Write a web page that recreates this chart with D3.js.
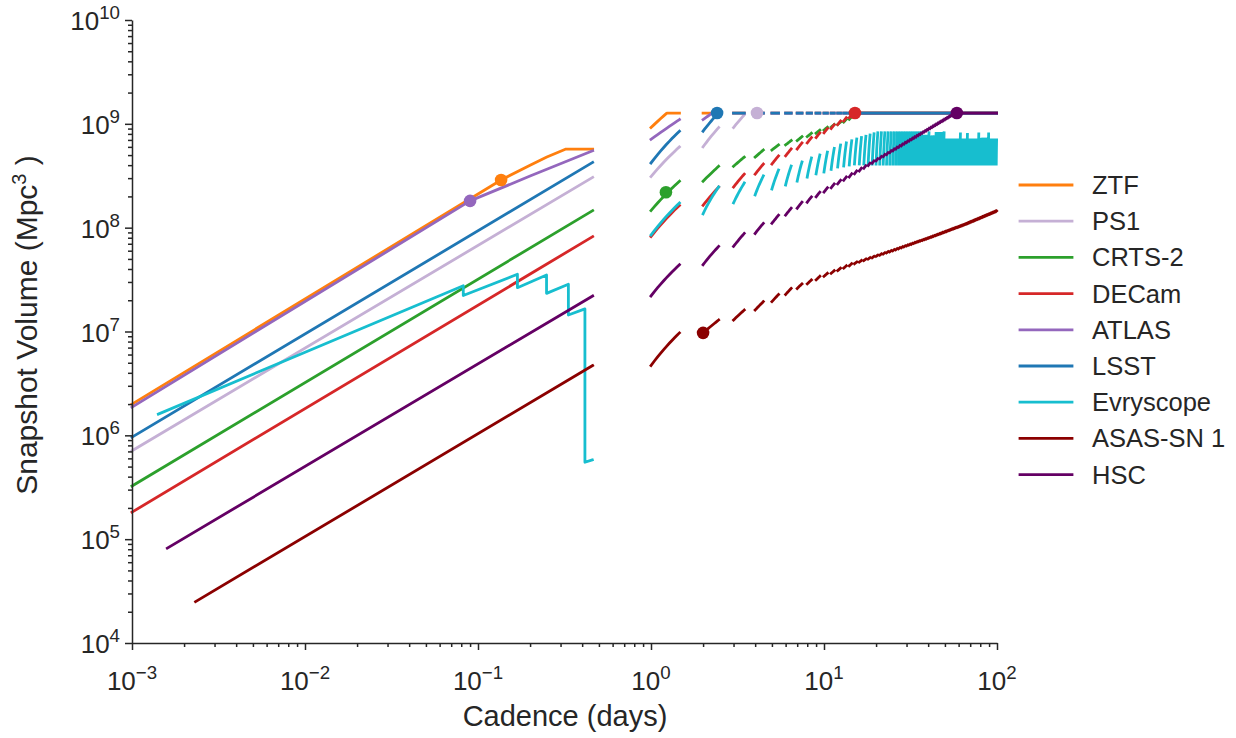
<!DOCTYPE html>
<html><head><meta charset="utf-8">
<script src="https://cdn.jsdelivr.net/npm/d3@7"></script>
<style>body{margin:0;background:#fff}text{font-family:"Liberation Sans",Arial,sans-serif;fill:#262626}</style>
</head><body><svg id="c" width="1236" height="738"></svg>
<script>
// ---------------- data ----------------
const surveys = ["ZTF","PS1","CRTS-2","DECam","ATLAS","LSST","Evryscope","ASAS-SN 1","HSC"];
const colors  = ["#ff7f0e","#c5b0d5","#2ca02c","#d62728","#9467bd","#1f77b4","#17becf","#8b0000","#640064"];
const xTickExps = [-3,-2,-1,0,1,2];
const yTickExps = [4,5,6,7,8,9,10];
const volumeCap = 1.27e9;      // whole-sky snapshot volume
const nightLength = 0.46;      // days of observing per night

// single-night curves: [cadence (days), volume (Mpc^3)]
const intraZTF   = [[0.001,2.0e6],[0.136,2.88e8],[0.2,4.0e8],[0.25,4.8e8],[0.32,5.7e8],[0.46,5.7e8]];
const intraPS1   = [[0.001,7.1e5],[0.46,3.05e8]];
const intraCRTS  = [[0.001,3.25e5],[0.46,1.46e8]];
const intraDECam = [[0.001,1.82e5],[0.46,8.2e7]];
const intraATLAS = [[0.001,1.87e6],[0.09,1.81e8],[0.2,3.14e8],[0.46,5.5e8]];
const intraLSST  = [[0.001,9.6e5],[0.46,4.25e8]];
const intraEvry  = [[0.00142,1.6e6],[0.0822,2.76e7],[0.0822,2.22e7],[0.169,3.56e7],[0.169,2.64e7],
                    [0.249,3.5e7],[0.249,2.33e7],[0.333,2.85e7],[0.333,1.44e7],[0.415,1.65e7],
                    [0.415,5.5e5],[0.458,5.8e5]];
const intraASASSN= [[0.00233,2.5e4],[0.46,4.7e6]];
const intraHSC   = [[0.0016,8.2e4],[0.46,2.2e7]];

// multi-night: volume reached at the start of night n  (knots: nights, volumes)
const nightsZTF   = [1,2,100],            volZTF   = [9.2e8,1.6e9,1.6e9];
const nightsPS1   = [1,2,3,4,5],          volPS1   = [3.1e8,6.0e8,9.2e8,1.22e9,1.5e9];
const nightsCRTS  = [1,2,3,5,7,10,13,15,16], volCRTS = [1.46e8,2.8e8,3.9e8,5.6e8,6.9e8,8.7e8,1.04e9,1.17e9,1.3e9];
const nightsDECam = [1,16],               volDECam = [8.2e7,1.31e9];
const nightsATLAS = [1,2,3],              volATLAS = [7.1e8,1.1e9,1.4e9];
const nightsLSST  = [1,2,3],              volLSST  = [4.2e8,8.5e8,1.28e9];
const nightsASASSN= [1,2,3,4,5,7,10,15,25,40,65,100];
const volASASSN   = [4.7e6,9.7e6,1.29e7,1.61e7,1.94e7,2.6e7,3.4e7,4.5e7,6.0e7,7.9e7,1.07e8,1.45e8];
const nightsHSC   = [1,60],               volHSC   = [2.2e7,1.32e9];

// Evryscope: separate start / end volume for each night
const evryStartNights = [1,2,3,4,5,6,7,8,9,10,12,15,20,100];
const evryStartVols   = [8.5e7,1.36e8,1.73e8,2.07e8,2.36e8,2.58e8,2.81e8,3.07e8,3.29e8,3.44e8,3.84e8,4.1e8,4.1e8,4.1e8];
const evryEndNights   = [1,2,3,4,5,6,7,8,9,10,12,15,18,20];
const evryEndVols     = [1.73e8,2.47e8,2.69e8,3.15e8,3.59e8,3.92e8,4.29e8,4.69e8,5.01e8,5.35e8,6.25e8,7.15e8,7.8e8,8.2e8];
// later nights: [first night, last night, end volume]
const evryEndRuns = [[21,36,8.2e8],[37,39,7.6e8],[40,40,8.2e8],[41,43,7.5e8],[44,48,8.1e8],[49,49,8.2e8],
                     [50,60,7.0e8],[61,61,8.0e8],[62,66,7.0e8],[67,67,7.9e8],[68,77,7.0e8],[78,78,8.0e8],
                     [79,88,7.1e8],[89,89,8.0e8],[90,99,7.0e8]];

// survey cadence markers
const markerCadence = [0.136, 4.1, 1.22, 15.1, 0.09, 2.41, null, 2.0, 58.6];
const markerVolume  = [2.88e8, 1.27e9, 2.19e8, 1.27e9, 1.81e8, 1.27e9, null, 9.7e6, 1.27e9];

// ---------------- layout ----------------
const x = d3.scaleLog().domain([1e-3, 1e2]).range([132, 997]);
const y = d3.scaleLog().domain([1e4, 1e10]).range([643, 20]);
const svg = d3.select("#c");
const LW = 2.8;

function knotFn(nights, vols){
  const s = d3.scaleLog().domain(nights).range(vols.map(Math.log10)).clamp(true);
  return n => Math.pow(10, s(n));
}
const nights = d3.range(1, 100);

function nightlySegments(startFn, endFn){
  const pts = [];
  for (const n of nights){
    const vs = startFn(n), ve = endFn(n);
    let fs = d3.range(0, 1.0001, 0.1);
    if (ve > volumeCap && vs < volumeCap){ fs.push((volumeCap - vs)/(ve - vs)); fs.sort((a,b)=>a-b); }
    for (const f of fs){
      pts.push([n + f*nightLength, Math.min(volumeCap, vs + (ve - vs)*f)]);
    }
    pts.push(null);
  }
  return pts;
}
function seriesFromKnots(nk, vk){
  const f = knotFn(nk, vk);
  return nightlySegments(n => f(n), n => f(n+1));
}
const evStart = knotFn(evryStartNights, evryStartVols);
const evEndK  = knotFn(evryEndNights, evryEndVols);
function evEnd(n){
  if (n <= 20) return evEndK(n);
  for (const r of evryEndRuns) if (n >= r[0] && n <= r[1]) return r[2];
  return evEndK(20);
}

const intra = [intraZTF, intraPS1, intraCRTS, intraDECam, intraATLAS, intraLSST, intraEvry, intraASASSN, intraHSC];
const multi = [
  seriesFromKnots(nightsZTF, volZTF),
  seriesFromKnots(nightsPS1, volPS1),
  seriesFromKnots(nightsCRTS, volCRTS),
  seriesFromKnots(nightsDECam, volDECam),
  seriesFromKnots(nightsATLAS, volATLAS),
  seriesFromKnots(nightsLSST, volLSST),
  nightlySegments(evStart, evEnd),
  seriesFromKnots(nightsASASSN, volASASSN),
  seriesFromKnots(nightsHSC, volHSC)
];

const line = d3.line().defined(d => d !== null).x(d => x(d[0])).y(d => y(d[1]));

const plot = svg.append("g");
surveys.forEach((s, i) => {
  const pts = intra[i].concat([null], multi[i]);
  plot.append("path").attr("d", line(pts))
    .attr("fill", "none").attr("stroke", colors[i]).attr("stroke-width", LW)
    .attr("stroke-linecap", "square").attr("stroke-linejoin", "round");
});
surveys.forEach((s, i) => {
  if (markerCadence[i] == null) return;
  plot.append("circle").attr("cx", x(markerCadence[i])).attr("cy", y(markerVolume[i]))
    .attr("r", 6.3).attr("fill", colors[i]);
});

// ---------------- axes ----------------
const axCol = "#262626";
const majorX = xTickExps.map(e => Math.pow(10, e));
const majorY = yTickExps.map(e => Math.pow(10, e));
const minorX = [], minorY = [];
for (let e = -3; e < 2; e++) for (let k = 2; k < 10; k++) minorX.push(k*Math.pow(10, e));
for (let e = 4; e < 10; e++) for (let k = 2; k < 10; k++) minorY.push(k*Math.pow(10, e));

function styleAxis(g){ g.selectAll("path,line").attr("stroke", axCol).attr("stroke-width", 1.5); g.selectAll("text").remove(); }
svg.append("g").attr("transform", "translate(0,643)")
  .call(d3.axisBottom(x).tickValues(majorX).tickSize(7).tickSizeOuter(0).tickFormat("")).call(styleAxis);
svg.append("g").attr("transform", "translate(0,643)")
  .call(d3.axisBottom(x).tickValues(minorX).tickSize(4).tickSizeOuter(0).tickFormat("")).call(styleAxis)
  .select(".domain").remove();
svg.append("g").attr("transform", "translate(132,0)")
  .call(d3.axisLeft(y).tickValues(majorY).tickSize(7).tickSizeOuter(0).tickFormat("")).call(styleAxis);
svg.append("g").attr("transform", "translate(132,0)")
  .call(d3.axisLeft(y).tickValues(minorY).tickSize(4).tickSizeOuter(0).tickFormat("")).call(styleAxis)
  .select(".domain").remove();

const tickFS = 26;
xTickExps.forEach(e => {
  const t = svg.append("text").attr("x", x(Math.pow(10, e))).attr("y", 690)
    .attr("text-anchor", "middle").attr("font-size", tickFS);
  t.append("tspan").text("10");
  t.append("tspan").attr("dy", -11).attr("font-size", tickFS*0.72).text(e < 0 ? "\u2212" + (-e) : e);
});
yTickExps.forEach(e => {
  const t = svg.append("text").attr("x", 120).attr("y", y(Math.pow(10, e)) + 10)
    .attr("text-anchor", "end").attr("font-size", tickFS);
  t.append("tspan").text("10");
  t.append("tspan").attr("dy", -11).attr("font-size", tickFS*0.72).text(e);
});

svg.append("text").attr("x", 565).attr("y", 726).attr("text-anchor", "middle")
  .attr("font-size", 29).text("Cadence (days)");
const yl = svg.append("text").attr("transform", "translate(37,325) rotate(-90)")
  .attr("text-anchor", "middle").attr("font-size", 30);
yl.append("tspan").text("Snapshot Volume (Mpc");
yl.append("tspan").attr("dy", -11).attr("font-size", 20).text("3");
yl.append("tspan").attr("dy", 11).text(" )");

// ---------------- legend ----------------
const lg = svg.append("g");
surveys.forEach((s, i) => {
  const yy = 185 + i*36.2;
  lg.append("line").attr("x1", 1020).attr("x2", 1072).attr("y1", yy).attr("y2", yy)
    .attr("stroke", colors[i]).attr("stroke-width", LW).attr("stroke-linecap", "square");
  lg.append("text").attr("x", 1092).attr("y", yy + 9).attr("font-size", 25.5).text(s);
});
</script></body></html>
